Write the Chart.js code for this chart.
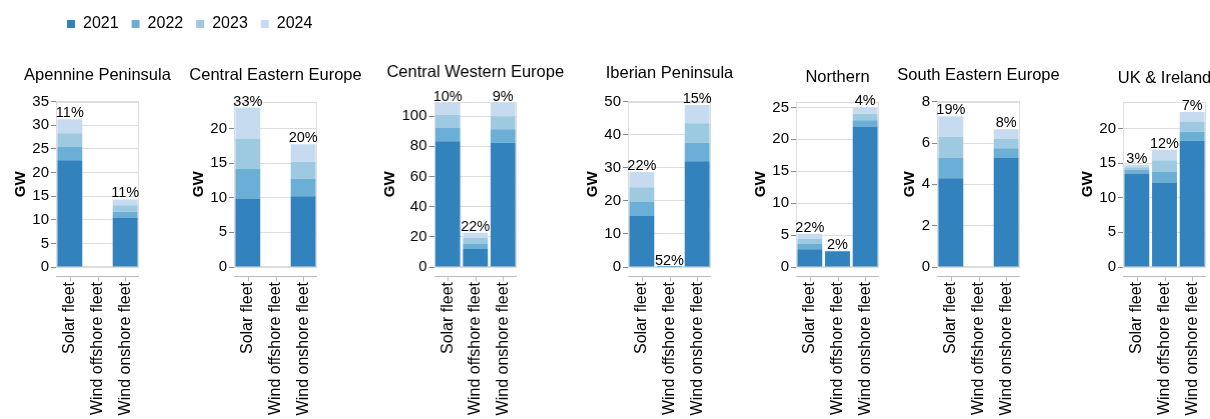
<!DOCTYPE html>
<html>
<head>
<meta charset="utf-8">
<script src="https://cdn.jsdelivr.net/npm/chart.js@4"></script>
<style>
  html, body { margin: 0; padding: 0; background: #fff; overflow: hidden; }
  #wrap { position: relative; width: 1210px; height: 419px; overflow: hidden; background: #fff; }
  #wrap canvas { position: absolute; }
</style>
</head>
<body>
<div id="wrap"></div>
<script>
// Regions, one small stacked-bar panel each
const regions = ['Apennine Peninsula', 'Central Eastern Europe', 'Central Western Europe',
  'Iberian Peninsula', 'Northern', 'South Eastern Europe', 'UK & Ireland'];
const fleets = ['Solar fleet', 'Wind offshore fleet', 'Wind onshore fleet'];
const years = ['2021', '2022', '2023', '2024'];

// GW in place at end of 2021, then GW added in each later year.
// One row per region: [solar, wind offshore, wind onshore]
const base2021 = [[22.6, 0, 10.5], [9.9, 0, 10.2], [83.3, 12.2, 82.4], [15.4, 0.03, 32.0],
  [2.8, 2.45, 22.0], [4.3, 0, 5.3], [13.5, 12.2, 18.2]];
const added2022 = [[2.9, 0, 1.2], [4.3, 0, 2.5], [8.9, 3.4, 8.9], [4.4, 0.01, 5.6],
  [0.9, 0.02, 1.0], [1.0, 0, 0.45], [0.5, 1.5, 1.3]];
const added2023 = [[2.8, 0, 1.4], [4.35, 0, 2.5], [8.5, 3.8, 8.7], [4.3, 0.01, 5.9],
  [0.7, 0.02, 1.0], [1.0, 0, 0.45], [0.4, 1.7, 1.5]];
const added2024 = [[3.0, 0, 1.2], [4.45, 0, 2.5], [8.2, 3.3, 8.9], [4.6, 0.02, 5.5],
  [0.8, 0.05, 1.0], [1.0, 0, 0.47], [0.35, 1.5, 1.35]];

// Growth label printed above each bar ('' = no label)
const growthLabels = [['11%', '', '11%'], ['33%', '', '20%'], ['10%', '22%', '9%'],
  ['22%', '52%', '15%'], ['22%', '2%', '4%'], ['19%', '', '8%'], ['3%', '12%', '7%']];

// Value axis of each panel
const yMax = [35, 23.85, 109.6, 50, 25.9, 8, 23.85];
const yTicks = [[0, 5, 10, 15, 20, 25, 30, 35], [0, 5, 10, 15, 20], [0, 20, 40, 60, 80, 100],
  [0, 10, 20, 30, 40, 50], [0, 5, 10, 15, 20, 25], [0, 2, 4, 6, 8], [0, 5, 10, 15, 20]];

const series = [base2021, added2022, added2023, added2024];
const colors = ['#3182bd', '#6baed6', '#9ecae1', '#c6dbef'];

// Page layout of the panels
const plotLeft = [55.5, 234.3, 433.5, 627.8, 796.3, 937, 1123];
const yAxisWidth = [44, 44, 52.5, 44, 44, 36, 44];
const titleMid = [75, 75, 72, 73.5, 77.5, 75, 78.5];
const PLOT_W = 83, PLOT_TOP = 101.7, PLOT_BOTTOM = 267, CANVAS_H = 467, SIDE = 60;
const FONT = "'Liberation Sans', Arial, Helvetica, sans-serif";

Chart.defaults.font.family = FONT;
Chart.defaults.color = '#000';

const wrap = document.getElementById('wrap');
function makeCanvas(left, top, w, h) {
  const c = document.createElement('canvas');
  c.width = w; c.height = h;
  c.style.left = left + 'px'; c.style.top = top + 'px';
  c.style.width = w + 'px'; c.style.height = h + 'px';
  wrap.appendChild(c);
  return c.getContext('2d');
}

// Light frame around each plot area
const framePlugin = {
  id: 'frame',
  beforeDatasetsDraw(chart) {
    const a = chart.chartArea, ctx = chart.ctx;
    ctx.save();
    ctx.strokeStyle = '#ddd';
    ctx.lineWidth = 1;
    const l = Math.round(a.left) + 0.5, t = Math.round(a.top) + 0.5;
    const r = Math.round(a.right) - 0.5, b = Math.round(a.bottom) - 0.5;
    ctx.strokeRect(l, t, r - l, b - t);
    ctx.restore();
  }
};

// Category axis line, set slightly below the plot, with a tick under each bar
const offsetAxisPlugin = {
  id: 'offsetAxis',
  afterDraw(chart) {
    const xs = chart.scales.x, ctx = chart.ctx;
    const y0 = Math.round(chart.chartArea.bottom) + 9.5;
    ctx.save();
    ctx.strokeStyle = '#bbb';
    ctx.lineWidth = 1;
    ctx.beginPath();
    ctx.moveTo(Math.round(xs.left), y0);
    ctx.lineTo(Math.round(xs.right), y0);
    xs.ticks.forEach((t, i) => {
      const px = Math.round(xs.getPixelForTick(i)) + 0.5;
      ctx.moveTo(px, y0);
      ctx.lineTo(px, y0 + 5);
    });
    ctx.stroke();
    ctx.restore();
  }
};

// Region name centred over the plot area
function headerPlugin(r) {
  return {
    id: 'header',
    afterDraw(chart) {
      const a = chart.chartArea, ctx = chart.ctx;
      ctx.save();
      ctx.font = '16.5px ' + FONT;
      ctx.fillStyle = '#000';
      ctx.textAlign = 'center';
      ctx.textBaseline = 'middle';
      ctx.fillText(regions[r], (a.left + a.right) / 2, titleMid[r]);
      ctx.restore();
    }
  };
}

// Growth percentage just above each stacked bar
function growthPlugin(r) {
  return {
    id: 'growth',
    afterDatasetsDraw(chart) {
      const ctx = chart.ctx, xs = chart.scales.x, ys = chart.scales.y;
      ctx.save();
      ctx.font = '14.5px ' + FONT;
      ctx.fillStyle = '#000';
      ctx.textAlign = 'center';
      ctx.textBaseline = 'alphabetic';
      fleets.forEach((f, i) => {
        const txt = growthLabels[r][i];
        if (!txt) return;
        const total = series.reduce((s, arr) => s + arr[r][i], 0);
        ctx.fillText(txt, xs.getPixelForValue(i), ys.getPixelForValue(total) - 2);
      });
      ctx.restore();
    }
  };
}

regions.forEach((name, r) => {
  const yW = yAxisWidth[r];
  const w = SIDE + yW + PLOT_W + SIDE;
  const ctx = makeCanvas(plotLeft[r] - yW - SIDE, 0, w, CANVAS_H);
  new Chart(ctx, {
    type: 'bar',
    data: {
      labels: fleets,
      datasets: years.map((yr, k) => ({
        label: yr,
        data: series[k][r],
        backgroundColor: colors[k],
        borderWidth: 0,
        categoryPercentage: 1,
        barPercentage: 0.9
      }))
    },
    options: {
      responsive: false,
      devicePixelRatio: 1,
      animation: false,
      events: [],
      layout: { padding: { left: SIDE, right: SIDE, top: PLOT_TOP, bottom: 0 } },
      plugins: {
        legend: { display: false },
        tooltip: { enabled: false },
        title: { display: false }
      },
      scales: {
        x: {
          stacked: true,
          offset: true,
          grid: { display: false, drawTicks: false },
          border: { display: false },
          ticks: { minRotation: 90, maxRotation: 90, autoSkip: false, padding: 15,
                   font: { size: 16 }, color: '#000' },
          afterFit(s) { s.height = CANVAS_H - PLOT_BOTTOM; s.paddingLeft = 0; s.paddingRight = 0; }
        },
        y: {
          stacked: true,
          min: 0,
          max: yMax[r],
          afterBuildTicks(s) { s.ticks = yTicks[r].map(v => ({ value: v })); },
          afterFit(s) { s.width = yW; s.paddingTop = 0; s.paddingBottom = 0; },
          grid: { color: '#ddd', lineWidth: 1, drawTicks: true, tickLength: 5, tickColor: '#888' },
          border: { display: false },
          ticks: { padding: 2, font: { size: 15 }, color: '#000' },
          title: { display: true, text: 'GW', color: '#000',
                   font: { size: 15, weight: 'bold' }, padding: { top: 0, bottom: 0 } }
        }
      }
    },
    plugins: [framePlugin, offsetAxisPlugin, headerPlugin(r), growthPlugin(r)]
  });
});

// Shared year legend across the top
const legendCtx = makeCanvas(53.5, 2.5, 300, 150);
new Chart(legendCtx, {
  type: 'bar',
  data: {
    labels: [],
    datasets: years.map((yr, k) => ({ label: yr, data: [], backgroundColor: colors[k], borderWidth: 0 }))
  },
  options: {
    responsive: false,
    devicePixelRatio: 1,
    animation: false,
    events: [],
    layout: { padding: 0 },
    scales: { x: { display: false }, y: { display: false } },
    plugins: {
      tooltip: { enabled: false },
      legend: {
        display: true,
        position: 'top',
        align: 'start',
        labels: { boxWidth: 8, boxHeight: 8, padding: 13, font: { size: 16 }, color: '#000' }
      }
    }
  }
});
</script>
</body>
</html>
